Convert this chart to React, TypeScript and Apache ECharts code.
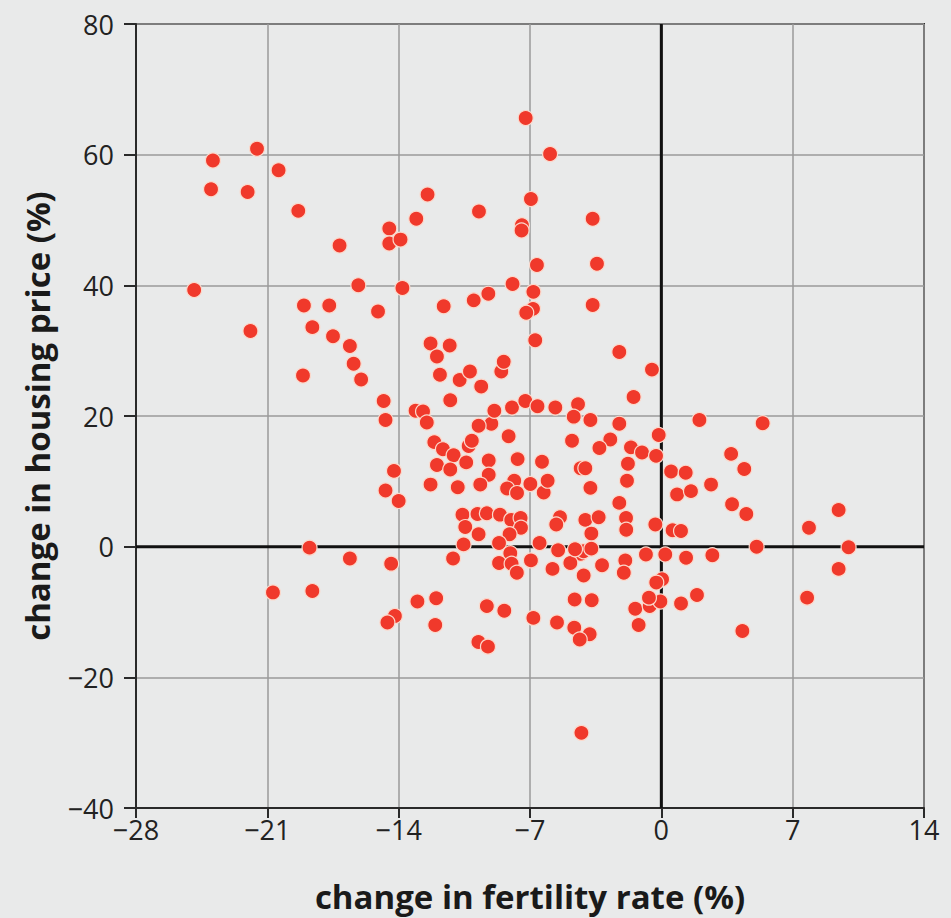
import React, { useEffect, useRef } from "react";
import * as echarts from "echarts";

// change in fertility rate (%) for each point
const fertilityChange: number[] = [
  -24.9, -23.9, -24.0, -22.05, -21.9, -21.55, -20.4, -19.35, -19.1, -19.05,
  -18.6, -17.7, -17.5, -17.15, -16.6, -16.4, -16.15, -16.0, -15.1, -14.5,
  -14.5, -13.9, -13.8, -13.06, -12.46, -14.8, -14.7, -13.1, -12.7, -12.5,
  -14.25, -14.7, -14.0, -11.25, -12.3, -11.28, -11.96, -11.8, -10.75, -10.2,
  -9.6, -11.6, -10.0, -9.22, -9.72, -7.93, -8.53, -8.4, -6.72, -6.82,
  -6.84, -7.2, -6.63, -6.95, -7.43, -7.45, -7.23, -5.93, -3.66, -3.43,
  -3.66, -2.24, -0.5, -1.48,
  -12.1, -11.64, -11.07, -11.96, -11.25, -10.27, -10.1, -10.4, -12.3, -10.85,
  -9.06, -9.74, -8.9, -7.96, -7.25, -6.6, -8.14, -9.2, -7.66, -6.36,
  -9.2, -9.65, -7.84, -6.98, -8.22, -7.69, -6.27, -6.06, -5.65, -4.44,
  -4.67, -3.78, -2.24, -4.76, -2.72, -3.3, -1.62, -1.03, -0.28, -0.14,
  -4.3, -4.05, -1.78, -3.78, -1.83, -2.24,
  -10.6, -9.8, -9.3, -8.6, -8.0, -7.5, -10.45, -9.74, -7.48, -8.09,
  -10.54, -8.65, -6.49, -11.1, -8.05, -8.65, -6.95, -7.98, -7.7, -5.4,
  -5.6, -4.05, -3.34, -1.88, -1.87, -3.73, -0.32, -5.5, -4.3, -4.14,
  -3.73, -4.85, -5.8, -4.14, -3.16, -1.92, -2.0, -0.82, 0.21, 0.04,
  -0.27, 0.6, -4.6,
  -18.75, -16.6, -14.4, -20.7, -18.6, -13.0, -14.2, -14.6, -12.05, -12.0,
  -9.3, -8.37, -9.75, -9.24, -6.82, -5.56, -4.64, -3.82, -4.35, -4.62,
  -3.71, -1.39, -0.62, -0.05, -0.66, -1.21, -4.26,
  2.03, 5.4, 3.72, 4.42, 0.52, 1.3, 2.65, 0.84, 1.58, 3.77,
  4.53, 9.45, 7.87, 1.05, 5.08, 9.98, 1.32, 2.72, 9.45, 1.9,
  1.05, 7.77, 4.32,
];

// change in housing price (%) for each point
const priceChange: number[] = [
  39.3, 59.1, 54.7, 54.3, 33.0, 60.9, 57.6, 51.4, 26.2, 36.9,
  33.6, 36.9, 32.2, 46.1, 30.7, 28.0, 40.0, 25.6, 36.0, 48.7,
  46.4, 47.0, 39.6, 50.2, 53.9, 22.3, 19.4, 20.8, 20.7, 19.0,
  11.6, 8.6, 7.0, 22.4, 31.1, 30.8, 29.1, 26.3, 25.5, 26.8,
  24.5, 36.8, 37.7, 38.7, 51.3, 40.2, 26.8, 28.3, 31.6, 39.0,
  36.4, 35.8, 43.1, 53.2, 49.2, 48.4, 65.6, 60.1, 50.2, 43.3,
  37.0, 29.8, 27.1, 22.9,
  16.0, 14.9, 14.0, 12.5, 11.8, 15.4, 16.2, 12.9, 9.5, 9.1,
  18.8, 18.5, 20.8, 21.3, 22.3, 21.5, 16.9, 13.2, 13.4, 13.0,
  11.0, 9.5, 10.1, 9.6, 8.9, 8.2, 8.3, 10.1, 21.3, 21.8,
  19.9, 19.4, 18.8, 16.2, 16.4, 15.1, 15.2, 14.4, 13.9, 17.1,
  12.0, 12.0, 12.7, 9.0, 10.1, 6.7,
  4.9, 5.0, 5.1, 4.9, 4.1, 4.4, 3.0, 1.9, 2.9, 1.9,
  0.35, 0.55, 0.55, -1.8, -1.0, -2.5, -2.1, -2.6, -4.0, 4.5,
  3.4, 4.1, 4.5, 4.4, 2.6, 2.0, 3.4, -0.56, -1.1, -0.7,
  -0.3, -2.5, -3.4, -4.4, -2.85, -2.1, -4.0, -1.2, -1.2, -5.0,
  -5.5, 2.5, -0.4,
  -0.15, -1.8, -2.6, -7.0, -6.8, -8.4, -10.6, -11.6, -12.0, -7.9,
  -9.1, -9.8, -14.6, -15.3, -10.9, -11.6, -12.4, -13.4, -14.2, -8.1,
  -8.2, -9.5, -9.1, -8.4, -7.8, -12.0, -28.5,
  19.4, 18.9, 14.2, 11.9, 11.5, 11.3, 9.5, 8.0, 8.5, 6.5,
  5.0, 5.6, 2.9, 2.4, 0.0, -0.1, -1.7, -1.3, -3.4, -7.4,
  -8.7, -7.8, -12.9,
];

const xTicks: number[] = [-28, -21, -14, -7, 0, 7, 14];
const yTicks: number[] = [-40, -20, 0, 20, 40, 60, 80];

const xTitle = "change in fertility rate (%)";
const yTitle = "change in housing price (%)";

const FONT = "'Open Sans', 'Noto Sans', sans-serif";
const BG = "#e9eaea";

const fmt = (v: number) => (v < 0 ? "\u2212" + Math.abs(v) : String(v));

export default function App() {
  const ref = useRef<HTMLDivElement>(null);

  useEffect(() => {
    if (!ref.current) return;
    const chart = echarts.init(ref.current, undefined, { renderer: "svg" });
    const points = fertilityChange.map((x, i) => [x, priceChange[i]]);
    const xMin = xTicks[0];
    const xMax = xTicks[xTicks.length - 1];
    const yMin = yTicks[0];
    const yMax = yTicks[yTicks.length - 1];

    chart.setOption({
      animation: false,
      backgroundColor: BG,
      grid: {
        left: 136,
        top: 24,
        width: 788,
        height: 786,
        show: true,
        borderColor: "#2a2a2a",
        borderWidth: 2,
        backgroundColor: "transparent",
      },
      xAxis: {
        type: "value",
        min: xMin,
        max: xMax,
        interval: 7,
        name: xTitle,
        nameLocation: "middle",
        nameGap: 72,
        nameTextStyle: {
          fontFamily: FONT,
          fontWeight: "bold",
          fontSize: 33,
          color: "#1a1a1a",
        },
        axisLine: { show: true, onZero: false, lineStyle: { color: "#2a2a2a", width: 2 } },
        axisTick: { show: true, inside: false, length: 10, lineStyle: { color: "#2a2a2a", width: 2 } },
        axisLabel: {
          margin: 8,
          fontFamily: FONT,
          fontSize: 27,
          color: "#222",
          formatter: fmt,
        },
        splitLine: { show: true, lineStyle: { color: "#9a9a9a", width: 1.5 } },
      },
      yAxis: {
        type: "value",
        min: yMin,
        max: yMax,
        interval: 20,
        name: yTitle,
        nameLocation: "middle",
        nameGap: 82,
        nameTextStyle: {
          fontFamily: FONT,
          fontWeight: "bold",
          fontSize: 33,
          color: "#1a1a1a",
        },
        axisLine: { show: true, onZero: false, lineStyle: { color: "#2a2a2a", width: 2 } },
        axisTick: { show: true, inside: false, length: 12, lineStyle: { color: "#2a2a2a", width: 2 } },
        axisLabel: {
          margin: 22,
          fontFamily: FONT,
          fontSize: 27,
          color: "#222",
          formatter: fmt,
        },
        splitLine: { show: true, lineStyle: { color: "#9a9a9a", width: 1.5 } },
      },
      series: [
        {
          type: "line",
          data: [[0, yMin], [0, yMax]],
          symbol: "none",
          silent: true,
          z: 1,
          lineStyle: { color: "#111", width: 3 },
        },
        {
          type: "line",
          data: [[xMin, 0], [xMax, 0]],
          symbol: "none",
          silent: true,
          z: 1,
          lineStyle: { color: "#111", width: 3 },
        },
        {
          type: "scatter",
          data: points,
          symbol: "circle",
          symbolSize: 15,
          z: 3,
          itemStyle: {
            color: "#f0392b",
            borderColor: "#fbd9cc",
            borderWidth: 1.2,
            opacity: 1,
          },
        },
      ],
    });

    return () => chart.dispose();
  }, []);

  return (
    <div
      style={{
        position: "fixed",
        left: 0,
        top: 0,
        width: 951,
        height: 918,
        background: BG,
      }}
    >
      <div ref={ref} style={{ width: 951, height: 918 }} />
    </div>
  );
}
